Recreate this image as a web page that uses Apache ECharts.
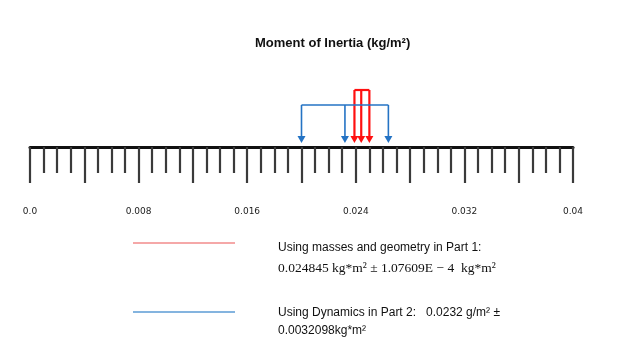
<!DOCTYPE html>
<html><head><meta charset="utf-8">
<script src="https://cdn.jsdelivr.net/npm/echarts@6/dist/echarts.min.js"></script>
<style>html,body{margin:0;padding:0;background:#fff}#c{width:624px;height:364px}</style>
</head><body><div id="c"></div>
<script>
// ---- data ----
const titleText = 'Moment of Inertia (kg/m\u00B2)';
const axisMin = 0, axisMax = 0.04, majorStep = 0.004;
const tickLabels = ['0.0', '0.008', '0.016', '0.024', '0.032', '0.04'];
const tickLabelValues = [0, 0.008, 0.016, 0.024, 0.032, 0.04];
// Part 2 (dynamics): lower, mean, upper as drawn
const blueValues = [0.0200, 0.0232, 0.0264];
// Part 1 (masses & geometry): lower, mean, upper as drawn
const redValues = [0.0239, 0.0244, 0.0250];
const legendRed = ['Using masses and geometry in Part 1:', '0.024845 kg*m\u00B2 \u00B1 1.07609E \u2212 4  kg*m\u00B2'];
const legendBlue = ['Using Dynamics in Part 2:   0.0232 g/m\u00B2 \u00B1', '0.0032098kg*m\u00B2'];

// ---- layout constants ----
const BLUE_TOP = 42, RED_TOP = 57, TIP = 4;
const BLUE = '#2473c4', RED = '#ff1010';

function arrowSeries(vals, color) {
  return {
    type: 'custom',
    data: vals.map(v => [v]),
    silent: true,
    renderItem: function (params, api) {
      const v = api.value(0);
      const top = api.coord([v, color === RED ? RED_TOP : BLUE_TOP]);
      const tip = api.coord([v, TIP]);
      const ah = 7, aw = 4;
      return {
        type: 'group',
        children: [
          { type: 'line', shape: { x1: top[0], y1: top[1], x2: tip[0], y2: tip[1] - ah + 1 },
            style: { stroke: color, lineWidth: color === RED ? 2.2 : 1.6 } },
          { type: 'polygon', shape: { points: [[tip[0] - aw, tip[1] - ah], [tip[0] + aw, tip[1] - ah], [tip[0], tip[1]]] },
            style: { fill: color } }
        ]
      };
    }
  };
}

const chart = echarts.init(document.getElementById('c'));
chart.setOption({
  animation: false,
  title: { text: titleText, left: 250, top: 32,
    textStyle: { fontFamily: 'Liberation Sans', fontWeight: 'bold', fontSize: 13, color: '#111' } },
  grid: { left: 30, right: 51, top: 47, bottom: 217 },
  xAxis: {
    type: 'value', min: axisMin, max: axisMax, interval: majorStep,
    position: 'bottom',
    axisLine: { show: true, lineStyle: { color: '#111', width: 3 } },
    axisTick: { show: true, length: 36, lineStyle: { color: '#3a3a3a', width: 2.2 } },
    minorTick: { show: true, splitNumber: 4, length: 26, lineStyle: { color: '#3a3a3a', width: 2.2 } },
    splitLine: { show: false },
    axisLabel: {
      margin: 60, fontFamily: 'DejaVu Sans', fontSize: 9, color: '#222',
      formatter: function (v) {
        for (let i = 0; i < tickLabelValues.length; i++) {
          if (Math.abs(v - tickLabelValues[i]) < 1e-9) return tickLabels[i];
        }
        return '';
      }
    }
  },
  yAxis: { type: 'value', min: 0, max: 100, show: false },
  series: [
    { type: 'line', data: [[blueValues[0], BLUE_TOP], [blueValues[blueValues.length - 1], BLUE_TOP]],
      symbol: 'none', lineStyle: { color: BLUE, width: 1.6 }, silent: true },
    { type: 'line', data: [[redValues[0], RED_TOP], [redValues[redValues.length - 1], RED_TOP]],
      symbol: 'none', lineStyle: { color: RED, width: 2.2 }, silent: true },
    arrowSeries(blueValues, BLUE),
    arrowSeries(redValues, RED)
  ],
  graphic: [
    { type: 'line', shape: { x1: 133, y1: 243, x2: 235, y2: 243 }, style: { stroke: '#f28b8b', lineWidth: 1.5 } },
    { type: 'line', shape: { x1: 133, y1: 312, x2: 235, y2: 312 }, style: { stroke: '#5b9bd5', lineWidth: 1.5 } },
    { type: 'text', left: 278, top: 242, style: { text: legendRed[0], font: '12px "Liberation Sans"', fill: '#111' } },
    { type: 'text', left: 278, top: 261, style: { text: legendRed[1], font: '13.5px "Liberation Serif"', fill: '#111' } },
    { type: 'text', left: 278, top: 307, style: { text: legendBlue[0], font: '12px "Liberation Sans"', fill: '#111' } },
    { type: 'text', left: 278, top: 325, style: { text: legendBlue[1], font: '12px "Liberation Sans"', fill: '#111' } }
  ]
});
</script></body></html>
